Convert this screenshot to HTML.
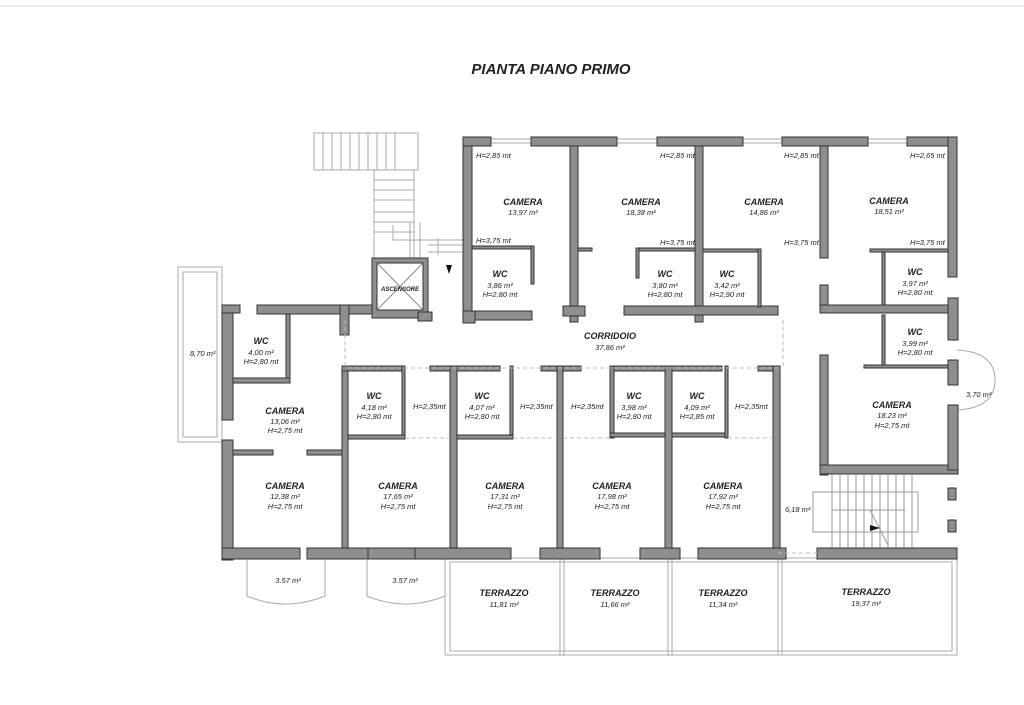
<!DOCTYPE html>
<html><head><meta charset="utf-8"><style>
body{margin:0;background:#fff}
svg{display:block}
text{font-family:"Liberation Sans",sans-serif;font-style:italic;fill:#222}
.w{fill:#8e8e8e;stroke:#333;stroke-width:1}
.t{font-weight:bold;font-size:9px}
.s{font-size:7.5px}
.g{fill:none;stroke:#aaa;stroke-width:1}
.d{fill:none;stroke:#bbb;stroke-width:1;stroke-dasharray:4 3}
</style></head><body>
<svg width="1024" height="705" viewBox="0 0 1024 705" xmlns="http://www.w3.org/2000/svg">
<rect width="1024" height="705" fill="#fff"/>
<line x1="0" y1="6" x2="1024" y2="6" stroke="#ddd"/>
<text x="551" y="74" text-anchor="middle" style="font-weight:bold;font-size:15px">PIANTA PIANO PRIMO</text>

<!-- outdoor elements -->
<rect class="g" x="178" y="267" width="44" height="175"/>
<rect class="g" x="183" y="272" width="34" height="165"/>
<path class="g" d="M247 560 V596 Q285 612 325 596 V560"/>
<path class="g" d="M367 560 V596 Q405 612 445 596 V560"/>
<path class="g" d="M957 350 Q995 352 995 380 Q995 408 957 410"/>
<rect class="g" x="445" y="558" width="512" height="97"/>
<rect class="g" x="450" y="562" width="502" height="89"/>
<line class="g" x1="560" y1="558" x2="560" y2="655"/><line class="g" x1="564" y1="558" x2="564" y2="655"/>
<line class="g" x1="668" y1="558" x2="668" y2="655"/><line class="g" x1="672" y1="558" x2="672" y2="655"/>
<line class="g" x1="778" y1="558" x2="778" y2="655"/><line class="g" x1="782" y1="558" x2="782" y2="655"/>
<!-- window lines top -->
<path class="g" d="M491 139H531M491 143H531M617 139H657M617 143H657M743 139H782M743 143H782M868 139H907M868 143H907"/>

<!-- top-left stairs -->
<g stroke="#aaa" fill="none">
<rect x="314" y="133" width="104" height="37"/>
<path d="M323 133V170M332 133V170M341 133V170M350 133V170M359 133V170M368 133V170M377 133V170M386 133V170M395 133V170"/>
<rect x="374" y="170" width="40" height="90"/>
<path d="M374 180H414M374 190H414M374 200H414M374 212H414M374 222H414M374 232H414"/>
<path d="M393 225V240H463M410 222V258M420 222V258M438 238V255M428 245H463M428 252H463"/>
</g>
<path d="M446 265 L452 265 L449 274 Z" fill="#111"/>
<!-- bottom right stairs -->
<g stroke="#999" fill="none">
<path d="M832 475V548M840 475V548M848 475V548M856 475V548M864 475V548M872 475V548M880 475V548M888 475V548M896 475V548M904 475V548M912 475V548"/>
<rect x="813" y="492" width="105" height="40"/>
<line x1="832" y1="510" x2="905" y2="510"/>
<line x1="870" y1="510" x2="888" y2="545"/>
</g>
<path d="M870 525 L880 528 L870 531 Z" fill="#111"/>

<!-- walls -->
<g class="w">
<rect x="463" y="137" width="9" height="183"/>
<rect x="463" y="137" width="28" height="9"/>
<rect x="531" y="137" width="86" height="9"/>
<rect x="657" y="137" width="86" height="9"/>
<rect x="782" y="137" width="86" height="9"/>
<rect x="907" y="137" width="50" height="9"/>
<rect x="948" y="137" width="9" height="140"/>
<rect x="570" y="146" width="8" height="176"/>
<rect x="695" y="146" width="8" height="176"/>
<rect x="820" y="146" width="8" height="112"/>
<rect x="472" y="311" width="60" height="9"/>
<rect x="463" y="311" width="12" height="12"/>
<rect x="563" y="306" width="22" height="10"/>
<rect x="624" y="306" width="154" height="9"/>
<rect x="472" y="246" width="62" height="3"/>
<rect x="531" y="246" width="3" height="38"/>
<rect x="578" y="248" width="14" height="3"/>
<rect x="636" y="248" width="59" height="3"/>
<rect x="636" y="248" width="3" height="30"/>
<rect x="703" y="249" width="58" height="3"/>
<rect x="758" y="249" width="3" height="58"/>
<rect x="870" y="249" width="78" height="3"/>
<rect x="882" y="252" width="3" height="53"/>
<rect x="882" y="315" width="3" height="53"/>
<rect x="864" y="365" width="84" height="3"/>
<rect x="820" y="285" width="8" height="20"/>
<rect x="820" y="305" width="128" height="8"/>
<rect x="948" y="298" width="10" height="42"/>
<rect x="948" y="360" width="10" height="25"/>
<rect x="820" y="355" width="8" height="120"/>
<rect x="820" y="465" width="138" height="9"/>
<rect x="948" y="405" width="10" height="65"/>
<rect x="948" y="488" width="8" height="12"/>
<rect x="948" y="520" width="8" height="12"/>
<rect x="222" y="305" width="11" height="115"/>
<rect x="222" y="440" width="11" height="120"/>
<rect x="222" y="305" width="18" height="8"/>
<rect x="257" y="305" width="122" height="9"/>
<rect x="340" y="305" width="9" height="30"/>
<rect x="286" y="314" width="4" height="66"/>
<rect x="233" y="378" width="57" height="5"/>
<rect x="233" y="450" width="40" height="5"/>
<rect x="307" y="450" width="38" height="5"/>
<rect x="372" y="258" width="56" height="60" fill="#8e8e8e"/>
<rect x="377" y="263" width="46" height="47" fill="#fff"/>
<rect x="418" y="312" width="14" height="9"/>
<rect x="342" y="366" width="6" height="192"/>
<rect x="342" y="366" width="63" height="5"/>
<rect x="402" y="366" width="3" height="72"/>
<rect x="348" y="435" width="57" height="4"/>
<rect x="430" y="366" width="70" height="5"/>
<rect x="450" y="366" width="7" height="192"/>
<rect x="510" y="366" width="3" height="72"/>
<rect x="457" y="435" width="56" height="4"/>
<rect x="541" y="366" width="40" height="5"/>
<rect x="557" y="366" width="6" height="192"/>
<rect x="610" y="366" width="112" height="5"/>
<rect x="610" y="366" width="4" height="72"/>
<rect x="610" y="433" width="55" height="4"/>
<rect x="665" y="366" width="7" height="192"/>
<rect x="672" y="433" width="55" height="4"/>
<rect x="725" y="366" width="3" height="72"/>
<rect x="758" y="366" width="22" height="5"/>
<rect x="773" y="366" width="7" height="192"/>
<rect x="222" y="548" width="78" height="11"/>
<rect x="307" y="548" width="68" height="11"/>
<rect x="368" y="548" width="48" height="11"/>
<rect x="415" y="548" width="96" height="11"/>
<rect x="540" y="548" width="60" height="11"/>
<rect x="640" y="548" width="40" height="11"/>
<rect x="698" y="548" width="88" height="11"/>
<rect x="817" y="548" width="140" height="11"/>
</g>
<path d="M377 263 L423 310 M423 263 L377 310" stroke="#666" stroke-width="0.8"/>
<path class="d" d="M348 368H780M405 438H450M513 438H557M563 438H610M728 438H773M345 320V366M783 320V366M778 553H817"/>

<g class="s">
<text x="476" y="158">H=2,85 mt</text><text x="476" y="243">H=3,75 mt</text>
<text x="660" y="158">H=2,85 mt</text><text x="660" y="245">H=3,75 mt</text>
<text x="784" y="158">H=2,85 mt</text><text x="784" y="245">H=3,75 mt</text>
<text x="910" y="158">H=2,65 mt</text><text x="910" y="245">H=3,75 mt</text>
<text x="413" y="409">H=2,35mt</text><text x="520" y="409">H=2,35mt</text>
<text x="571" y="409">H=2,35mt</text><text x="735" y="409">H=2,35mt</text>
<text x="190" y="356">8,70 m²</text>
<text x="966" y="397">3,70 m²</text>
<text x="785" y="512">6,18 m²</text>
</g>
<g text-anchor="middle">
<text class="t" x="523" y="205">CAMERA</text><text class="s" x="523" y="215">13,97 m²</text>
<text class="t" x="641" y="205">CAMERA</text><text class="s" x="641" y="215">18,38 m²</text>
<text class="t" x="764" y="205">CAMERA</text><text class="s" x="764" y="215">14,86 m²</text>
<text class="t" x="889" y="204">CAMERA</text><text class="s" x="889" y="214">18,51 m²</text>
<text class="t" x="500" y="277">WC</text><text class="s" x="500" y="288">3,86 m²</text><text class="s" x="500" y="297">H=2,80 mt</text>
<text class="t" x="665" y="277">WC</text><text class="s" x="665" y="288">3,80 m²</text><text class="s" x="665" y="297">H=2,80 mt</text>
<text class="t" x="727" y="277">WC</text><text class="s" x="727" y="288">3,42 m²</text><text class="s" x="727" y="297">H=2,90 mt</text>
<text class="t" x="915" y="275">WC</text><text class="s" x="915" y="286">3,97 m²</text><text class="s" x="915" y="295">H=2,80 mt</text>
<text class="t" x="915" y="335">WC</text><text class="s" x="915" y="346">3,99 m²</text><text class="s" x="915" y="355">H=2,80 mt</text>
<text class="t" x="610" y="339">CORRIDOIO</text><text class="s" x="610" y="350">37,86 m²</text>
<text style="font-weight:bold;font-size:6px" x="400" y="291">ASCENSORE</text>
<text class="t" x="261" y="344">WC</text><text class="s" x="261" y="355">4,00 m²</text><text class="s" x="261" y="364">H=2,80 mt</text>
<text class="t" x="285" y="414">CAMERA</text><text class="s" x="285" y="424">13,06 m²</text><text class="s" x="285" y="433">H=2,75 mt</text>
<text class="t" x="285" y="489">CAMERA</text><text class="s" x="285" y="499">12,38 m²</text><text class="s" x="285" y="509">H=2.75 mt</text>
<text class="t" x="374" y="399">WC</text><text class="s" x="374" y="410">4,18 m²</text><text class="s" x="374" y="419">H=2,80 mt</text>
<text class="t" x="482" y="399">WC</text><text class="s" x="482" y="410">4,07 m²</text><text class="s" x="482" y="419">H=2,80 mt</text>
<text class="t" x="634" y="399">WC</text><text class="s" x="634" y="410">3,98 m²</text><text class="s" x="634" y="419">H=2,80 mt</text>
<text class="t" x="697" y="399">WC</text><text class="s" x="697" y="410">4,09 m²</text><text class="s" x="697" y="419">H=2,85 mt</text>
<text class="t" x="398" y="489">CAMERA</text><text class="s" x="398" y="499">17,65 m²</text><text class="s" x="398" y="509">H=2,75 mt</text>
<text class="t" x="505" y="489">CAMERA</text><text class="s" x="505" y="499">17,31 m²</text><text class="s" x="505" y="509">H=2,75 mt</text>
<text class="t" x="612" y="489">CAMERA</text><text class="s" x="612" y="499">17,98 m²</text><text class="s" x="612" y="509">H=2,75 mt</text>
<text class="t" x="723" y="489">CAMERA</text><text class="s" x="723" y="499">17,92 m²</text><text class="s" x="723" y="509">H=2,75 mt</text>
<text class="t" x="892" y="408">CAMERA</text><text class="s" x="892" y="418">18.23 m²</text><text class="s" x="892" y="428">H=2,75 mt</text>
<text class="s" x="288" y="583">3.57 m²</text>
<text class="s" x="405" y="583">3.57 m²</text>
<text class="t" x="504" y="596">TERRAZZO</text><text class="s" x="504" y="607">11,81 m²</text>
<text class="t" x="615" y="596">TERRAZZO</text><text class="s" x="615" y="607">11,66 m²</text>
<text class="t" x="723" y="596">TERRAZZO</text><text class="s" x="723" y="607">11,34 m²</text>
<text class="t" x="866" y="595">TERRAZZO</text><text class="s" x="866" y="606">19,37 m²</text>
</g>
</svg>
</body></html>
